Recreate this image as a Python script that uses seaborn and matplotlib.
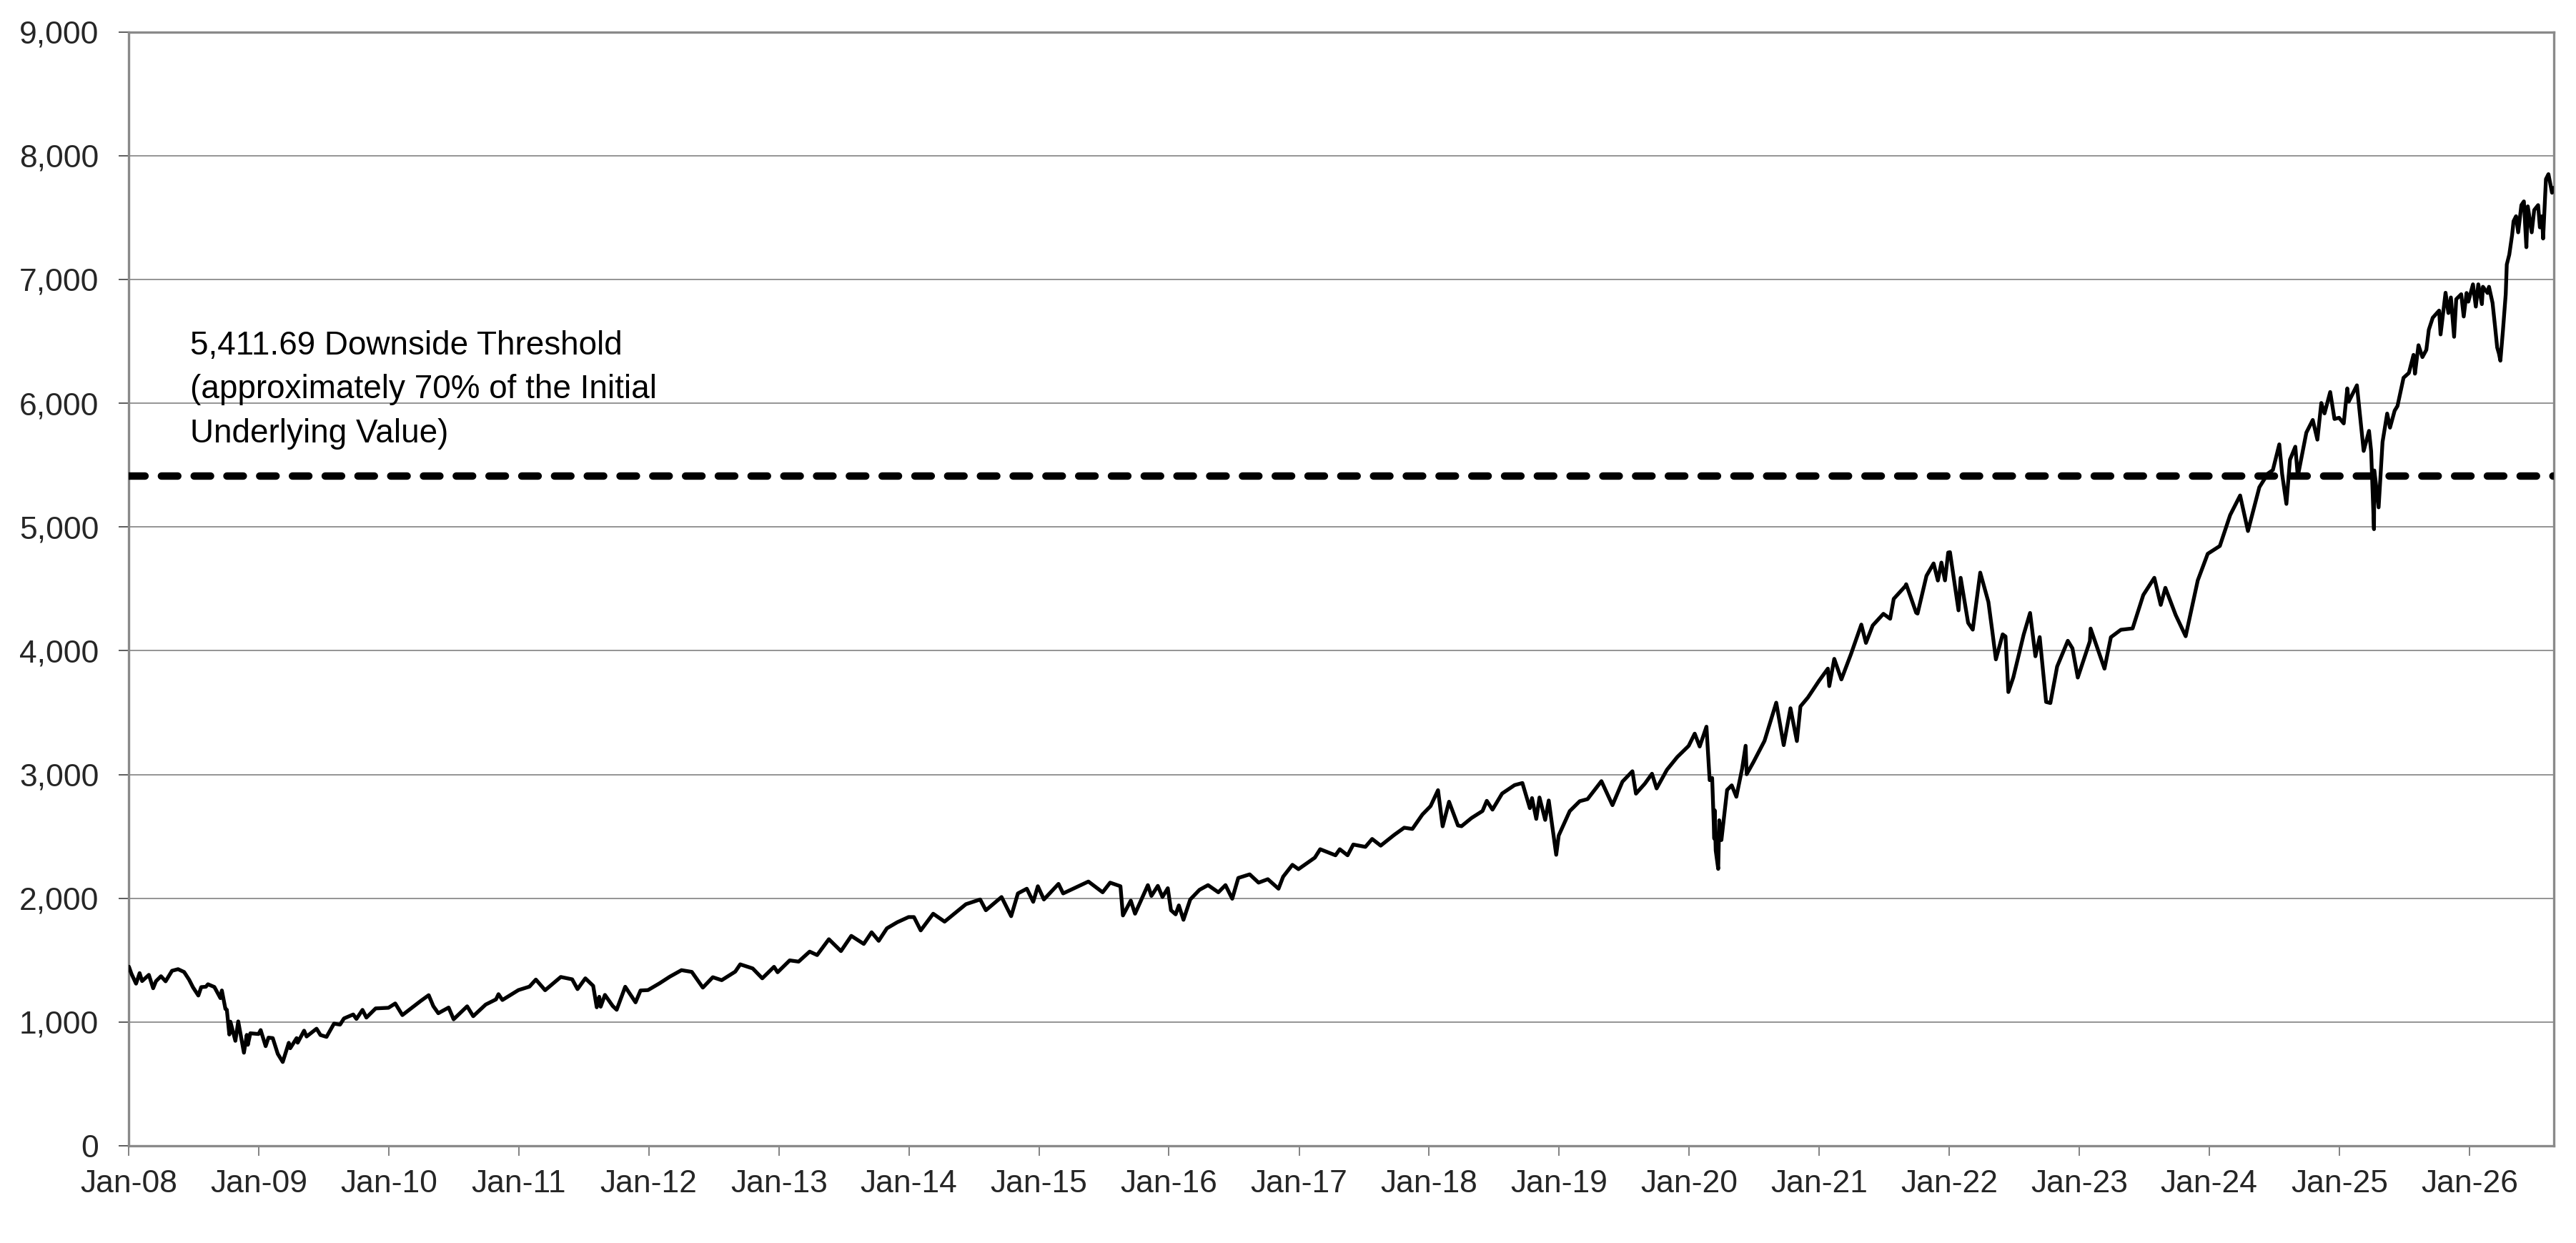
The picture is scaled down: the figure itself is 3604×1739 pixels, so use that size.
"""
Underlying index level vs. downside threshold, Jan-08 to Aug-26.
"""
import matplotlib
matplotlib.use("Agg")
import matplotlib.pyplot as plt
import matplotlib.dates as mdates
import matplotlib.ticker as mticker
import pandas as pd
import seaborn as sns

# ---------------------------------------------------------------------------
# data

dates_2008_2011 = [
    "2008-01-02", "2008-01-09", "2008-01-22", "2008-02-01", "2008-02-08", "2008-02-27", "2008-03-10", "2008-03-18",
    "2008-04-01", "2008-04-14", "2008-05-02", "2008-05-19", "2008-06-05", "2008-06-19", "2008-06-30", "2008-07-15",
    "2008-07-23", "2008-08-05", "2008-08-11", "2008-08-29", "2008-09-15", "2008-09-19", "2008-09-29", "2008-10-03",
    "2008-10-10", "2008-10-13", "2008-10-27", "2008-11-04", "2008-11-20", "2008-11-28", "2008-12-01", "2008-12-08",
    "2008-12-31",
    "2009-01-06", "2009-01-20", "2009-01-28", "2009-02-09", "2009-02-23", "2009-03-09", "2009-03-26", "2009-03-30",
    "2009-04-17", "2009-04-20", "2009-05-08", "2009-05-15", "2009-06-12", "2009-06-23", "2009-07-10", "2009-07-31",
    "2009-08-17", "2009-08-28", "2009-09-23", "2009-10-02", "2009-10-19", "2009-10-30", "2009-11-25", "2009-12-31",
    "2010-01-19", "2010-02-08", "2010-03-31", "2010-04-23", "2010-05-06", "2010-05-20", "2010-06-18", "2010-07-02",
    "2010-08-09", "2010-08-26", "2010-09-30", "2010-10-29", "2010-11-05", "2010-11-16", "2010-12-31",
    "2011-01-31", "2011-02-18", "2011-03-16", "2011-04-29", "2011-05-31", "2011-06-15", "2011-07-07", "2011-07-29",
    "2011-08-08", "2011-08-15", "2011-08-19", "2011-08-31", "2011-09-22", "2011-10-03", "2011-10-27", "2011-11-25",
    "2011-12-09", "2011-12-30",
]
levels_2008_2011 = [
    1447, 1390, 1310, 1395, 1331, 1381, 1273, 1330,
    1370, 1329, 1414, 1427, 1404, 1342, 1280, 1214,
    1282, 1285, 1305, 1283, 1193, 1255, 1106, 1099,
    899, 1003, 848, 1005, 752, 896, 816, 909,
    903,
    935, 805, 874, 870, 743, 677, 832, 788,
    870, 833, 930, 883, 946, 895, 880, 987,
    979, 1029, 1061, 1025, 1098, 1036, 1110, 1115,
    1150, 1056, 1169, 1217, 1128, 1071, 1117, 1022,
    1127, 1047, 1141, 1183, 1225, 1178, 1258,
    1286, 1343, 1257, 1364, 1345, 1266, 1353, 1292,
    1119, 1204, 1124, 1219, 1129, 1099, 1285, 1159,
    1255, 1258,
]

dates_2012_2017 = [
    "2012-01-31", "2012-02-29", "2012-04-02", "2012-05-01", "2012-06-01", "2012-06-29", "2012-07-24", "2012-08-31",
    "2012-09-14", "2012-10-19", "2012-11-15", "2012-12-18", "2012-12-28",
    "2013-01-31", "2013-02-25", "2013-03-28", "2013-04-18", "2013-05-21", "2013-06-24", "2013-07-23", "2013-08-27",
    "2013-09-18", "2013-10-08", "2013-10-31", "2013-11-29", "2013-12-31",
    "2014-01-15", "2014-02-03", "2014-03-10", "2014-04-11", "2014-06-10", "2014-07-20", "2014-08-05", "2014-09-18",
    "2014-10-15", "2014-11-03", "2014-11-28", "2014-12-16", "2014-12-29",
    "2015-01-15", "2015-02-25", "2015-03-10", "2015-05-20", "2015-06-29", "2015-07-20", "2015-08-18", "2015-08-25",
    "2015-09-16", "2015-09-28", "2015-11-03", "2015-11-13", "2015-12-01", "2015-12-14", "2015-12-29",
    "2016-01-07", "2016-01-20", "2016-01-29", "2016-02-11", "2016-03-01", "2016-03-27", "2016-04-20", "2016-05-19",
    "2016-06-08", "2016-06-27", "2016-07-14", "2016-08-15", "2016-09-09", "2016-10-05", "2016-11-04", "2016-11-17",
    "2016-12-13", "2016-12-30",
    "2017-02-14", "2017-03-01", "2017-04-13", "2017-04-25", "2017-05-17", "2017-06-02", "2017-07-06", "2017-07-25",
    "2017-08-18", "2017-09-25", "2017-10-23", "2017-11-15", "2017-12-13",
]
levels_2012_2017 = [
    1312, 1366, 1419, 1405, 1278, 1362, 1338, 1407,
    1466, 1433, 1353, 1446, 1402,
    1498, 1488, 1569, 1541, 1669, 1573, 1696, 1631,
    1725, 1656, 1757, 1806, 1848,
    1848, 1740, 1875, 1811, 1952, 1990, 1903, 2010,
    1855, 2039, 2077, 1971, 2097,
    1990, 2116, 2039, 2135, 2048, 2126, 2097, 1861,
    1981, 1875, 2106, 2019, 2100, 2010, 2081,
    1903, 1870, 1942, 1826, 1990, 2068, 2106, 2048,
    2106, 1996, 2164, 2193, 2126, 2154, 2077, 2174,
    2270, 2235,
    2328, 2396, 2347, 2396, 2347, 2434, 2415, 2479,
    2425, 2512, 2570, 2560, 2676,
]

dates_2018_2021 = [
    "2018-01-05", "2018-01-26", "2018-02-08", "2018-02-26", "2018-03-23", "2018-04-02", "2018-04-30", "2018-05-31",
    "2018-06-12", "2018-06-28", "2018-07-25", "2018-08-29", "2018-09-20", "2018-10-11", "2018-10-17", "2018-10-29",
    "2018-11-07", "2018-11-23", "2018-12-03", "2018-12-24", "2018-12-31",
    "2019-01-31", "2019-02-28", "2019-03-22", "2019-04-30", "2019-05-31", "2019-06-28", "2019-07-26", "2019-08-05",
    "2019-08-30", "2019-09-19", "2019-10-02", "2019-10-31", "2019-11-29", "2019-12-31",
    "2020-01-17", "2020-01-31", "2020-02-19", "2020-02-28", "2020-03-06", "2020-03-12", "2020-03-13", "2020-03-16",
    "2020-03-23", "2020-03-26", "2020-04-01", "2020-04-17", "2020-04-30", "2020-05-13", "2020-05-29", "2020-06-08",
    "2020-06-11", "2020-06-30", "2020-07-31", "2020-09-02", "2020-09-23", "2020-10-12", "2020-10-30", "2020-11-09",
    "2020-11-30", "2020-12-31",
    "2021-01-25", "2021-01-29", "2021-02-12", "2021-03-04", "2021-03-31", "2021-04-29", "2021-05-12", "2021-05-31",
    "2021-06-30", "2021-07-19", "2021-07-29", "2021-08-31", "2021-09-02", "2021-09-30", "2021-10-04", "2021-10-29",
    "2021-11-18", "2021-11-30", "2021-12-10", "2021-12-20", "2021-12-29",
]
levels_2018_2021 = [
    2744, 2873, 2581, 2780, 2588, 2582, 2648, 2705,
    2787, 2716, 2846, 2914, 2931, 2728, 2809, 2641,
    2814, 2633, 2790, 2351, 2507,
    2704, 2784, 2801, 2946, 2752, 2942, 3026, 2845,
    2926, 3006, 2887, 3038, 3141, 3231,
    3330, 3226, 3386, 2954, 2972, 2481, 2711, 2386,
    2237, 2630, 2470, 2875, 2912, 2820, 3044, 3232,
    3002, 3100, 3271, 3580, 3237, 3535, 3270, 3550,
    3622, 3756,
    3855, 3714, 3934, 3768, 3973, 4211, 4063, 4204,
    4298, 4258, 4419, 4523, 4537, 4307, 4300, 4605,
    4705, 4567, 4712, 4568, 4793,
]

dates_2022_2024 = [
    "2022-01-03", "2022-01-27", "2022-02-02", "2022-02-23", "2022-03-08", "2022-03-29", "2022-04-21", "2022-05-02",
    "2022-05-12", "2022-05-31", "2022-06-08", "2022-06-16", "2022-06-30", "2022-07-29", "2022-08-16", "2022-08-31",
    "2022-09-12", "2022-09-30", "2022-10-12", "2022-10-31", "2022-11-30", "2022-12-13", "2022-12-28",
    "2023-01-31", "2023-02-02", "2023-03-13", "2023-03-31", "2023-04-28", "2023-05-31", "2023-06-30", "2023-07-31",
    "2023-08-18", "2023-08-31", "2023-09-29", "2023-10-27", "2023-11-30", "2023-12-28",
    "2024-01-31", "2024-02-29", "2024-03-28", "2024-04-19", "2024-05-21", "2024-06-14", "2024-06-28", "2024-07-16",
    "2024-07-24", "2024-08-05", "2024-08-15", "2024-08-30", "2024-09-06", "2024-09-30", "2024-10-18", "2024-10-31",
    "2024-11-11", "2024-11-20", "2024-12-06", "2024-12-18", "2024-12-31",
]
levels_2022_2024 = [
    4796, 4326, 4589, 4225, 4170, 4631, 4393, 4155,
    3930, 4132, 4115, 3666, 3785, 4130, 4305, 3955,
    4110, 3586, 3577, 3872, 4080, 4019, 3783,
    4077, 4179, 3855, 4109, 4169, 4180, 4450, 4589,
    4370, 4508, 4288, 4117, 4568, 4783,
    4846, 5096, 5254, 4967, 5321, 5431, 5460, 5667,
    5427, 5186, 5543, 5648, 5408, 5762, 5864, 5705,
    6001, 5917, 6090, 5872, 5882,
]

dates_2025_2026 = [
    "2025-01-13", "2025-01-23", "2025-01-27", "2025-02-19", "2025-03-10", "2025-03-25", "2025-03-31", "2025-04-08",
    "2025-04-09", "2025-04-21", "2025-05-02", "2025-05-15", "2025-05-23", "2025-06-05", "2025-06-13", "2025-06-30",
    "2025-07-15", "2025-07-28", "2025-08-01", "2025-08-11", "2025-08-22", "2025-09-02", "2025-09-09", "2025-09-20",
    "2025-10-08", "2025-10-12", "2025-10-26", "2025-11-03", "2025-11-10", "2025-11-19", "2025-11-25", "2025-12-09",
    "2025-12-16", "2025-12-24", "2025-12-29",
    "2026-01-11", "2026-01-19", "2026-01-26", "2026-02-05", "2026-02-08", "2026-02-21", "2026-02-25", "2026-03-07",
    "2026-03-14", "2026-03-20", "2026-03-25", "2026-03-29", "2026-04-05", "2026-04-13", "2026-04-16", "2026-04-23",
    "2026-05-01", "2026-05-05", "2026-05-12", "2026-05-18", "2026-05-27", "2026-06-03", "2026-06-10", "2026-06-14",
    "2026-06-25", "2026-07-02", "2026-07-13", "2026-07-18", "2026-07-24", "2026-07-27", "2026-08-04", "2026-08-11",
    "2026-08-21", "2026-08-26",
]
levels_2025_2026 = [
    5836, 6119, 6012, 6144, 5614, 5776, 5612, 4982,
    5456, 5158, 5686, 5916, 5802, 5939, 5977, 6205,
    6244, 6390, 6238, 6468, 6372, 6430, 6593, 6690,
    6748, 6555, 6892, 6728, 6854, 6536, 6840, 6880,
    6700, 6890, 6820,
    6960, 6780, 6960, 6800, 6940, 6890, 6940, 6810,
    6620, 6450, 6400, 6343, 6580, 6880, 7120, 7200,
    7360, 7470, 7510, 7380, 7600, 7630, 7260, 7590,
    7380, 7560, 7600, 7420, 7510, 7330, 7810, 7850,
    7700, 7740,
]

threshold = 5411.69
threshold_label = [
    "5,411.69 Downside Threshold",
    "(approximately 70% of the Initial",
    "Underlying Value)",
]
y_ticks = list(range(0, 9001, 1000))
tick_years = list(range(2008, 2027))
x_start, x_end = "2008-01-01", "2026-08-26"

# ---------------------------------------------------------------------------

sns.set_theme(style="white")
plt.rcParams["font.family"] = ["Liberation Sans", "DejaVu Sans"]

df = pd.DataFrame({
    "date": pd.to_datetime(dates_2008_2011 + dates_2012_2017 + dates_2018_2021 + dates_2022_2024 + dates_2025_2026),
    "level": levels_2008_2011 + levels_2012_2017 + levels_2018_2021 + levels_2022_2024 + levels_2025_2026,
})

fig, ax = plt.subplots(figsize=(36.05, 17.39), dpi=100)
fig.subplots_adjust(left=0.0499, right=0.9911, bottom=0.0782, top=0.9744)

sns.lineplot(data=df, x="date", y="level", color="black", lw=3.8, estimator=None, ax=ax, zorder=3)
ax.axhline(threshold, color="black", lw=7.5, linestyle=(0, (2.2, 2.2)), dash_capstyle="round", zorder=4)

# threshold annotation, one line at a time
for i, line in enumerate(threshold_label):
    ax.text(0.0253, 0.7103 - i * 0.0394, line, transform=ax.transAxes,
            ha="left", va="baseline", fontsize=33, color="black")

ax.set_xlim(pd.Timestamp(x_start), pd.Timestamp(x_end))
ax.set_ylim(y_ticks[0], y_ticks[-1])
ax.set_yticks(y_ticks)
ax.yaxis.set_major_formatter(mticker.FuncFormatter(lambda v, _: f"{v:,.0f}"))
ax.set_xticks([pd.Timestamp(f"{y}-01-01") for y in tick_years])
ax.xaxis.set_major_formatter(mdates.DateFormatter("%b-%y"))

ax.yaxis.grid(True, color="#777777", lw=1.1)
ax.xaxis.grid(False)
ax.set_axisbelow(True)
for side in ["left", "right", "top", "bottom"]:
    ax.spines[side].set_visible(True)
    ax.spines[side].set_color("#8a8a8a")
    ax.spines[side].set_linewidth(2.4)

ax.tick_params(axis="y", direction="out", length=10, width=1.1, color="#303030", pad=20, labelsize=32, left=True)
ax.tick_params(axis="x", direction="out", length=10, width=1.1, color="#606060", pad=14, labelsize=32, bottom=True)
ax.set_xlabel("")
ax.set_ylabel("")

fig.savefig("out.png", dpi=100)
plt.close(fig)
